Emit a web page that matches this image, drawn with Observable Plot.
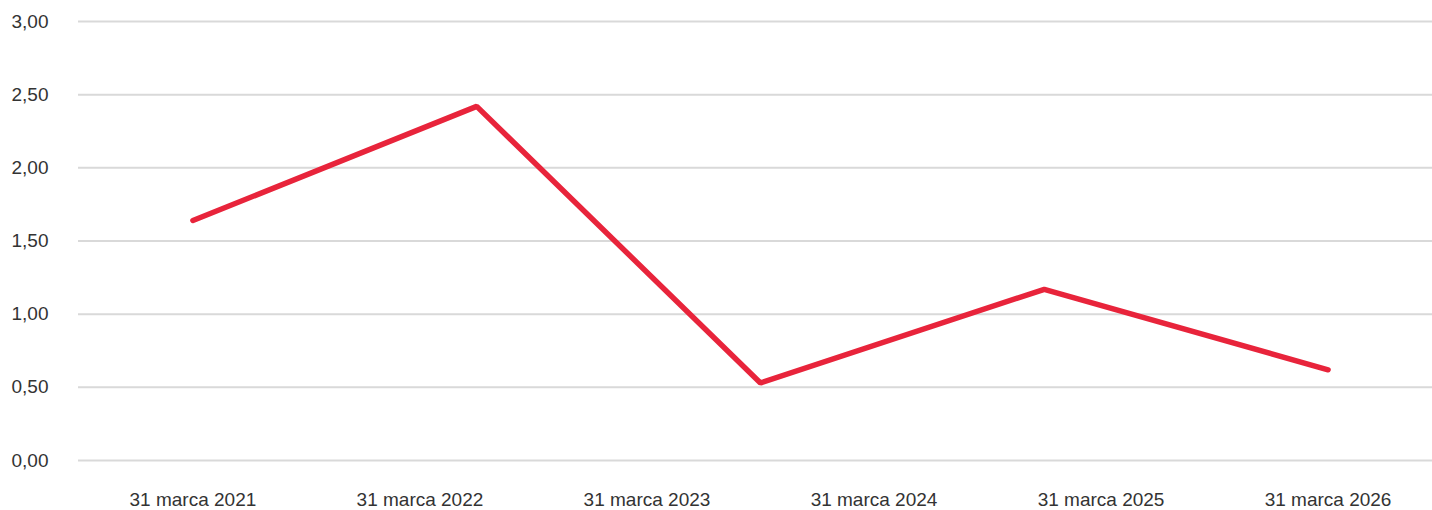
<!DOCTYPE html>
<html>
<head>
<meta charset="utf-8">
<script src="https://cdn.jsdelivr.net/npm/d3@7"></script>
<script src="https://cdn.jsdelivr.net/npm/@observablehq/plot@0.6"></script>
<style>
  html, body { margin: 0; padding: 0; background: #fff; }
  #chart svg { display: block; }
</style>
</head>
<body>
<div id="chart"></div>
<script>
// Data
const positions = [2021, 2022.25, 2023.5, 2024.75, 2026];
const values = [1.64, 2.42, 0.53, 1.17, 0.62];
const tickYears = [2021, 2022, 2023, 2024, 2025, 2026];
const tickLabelPrefix = "31 marca ";
const yTicks = [0, 0.5, 1, 1.5, 2, 2.5, 3];

const data = positions.map((x, i) => ({x, y: values[i]}));
const fmt = d => d.toFixed(2).replace(".", ",");

const chart = Plot.plot({
  width: 1432,
  height: 510,
  marginLeft: 78,
  marginRight: 0,
  marginTop: 21,
  marginBottom: 50,
  style: {fontFamily: "'Liberation Sans', Arial, sans-serif", fontSize: "19px", color: "#333", background: "#fff"},
  x: {domain: [2020.496, 2026.46], ticks: tickYears, tickFormat: d => tickLabelPrefix + d, tickSize: 0, tickPadding: 32, label: null},
  y: {domain: [0, 3], ticks: yTicks, tickFormat: fmt, tickSize: 0, tickPadding: 30, label: null},
  marks: [
    Plot.ruleY(yTicks, {stroke: "#d9d9d9", strokeWidth: 2}),
    Plot.line(data, {x: "x", y: "y", stroke: "#e8243b", strokeWidth: 5.5, strokeLinecap: "round", strokeLinejoin: "miter"})
  ]
});
document.getElementById("chart").appendChild(chart);
</script>
</body>
</html>
